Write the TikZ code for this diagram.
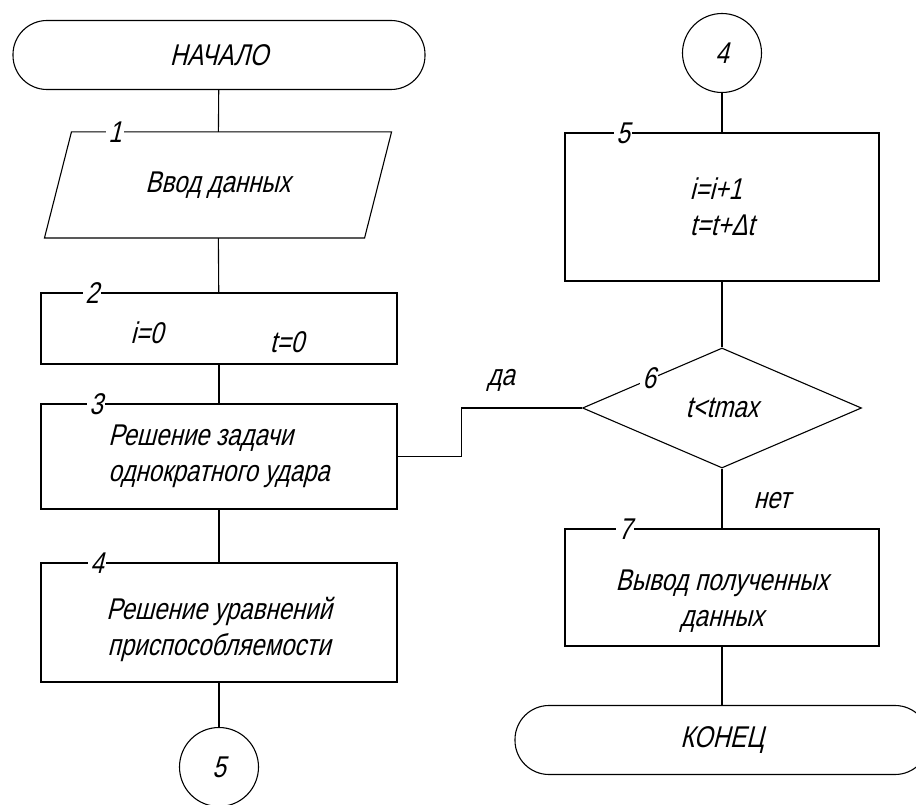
\documentclass[tikz,border=0pt]{standalone}
\usepackage{fontspec}
\setmainfont{Liberation Sans}[FakeSlant=0.25,FakeStretch=0.8]
\usetikzlibrary{shapes.geometric}

\begin{document}
\begin{tikzpicture}[x=1pt,y=-1pt,line width=1.1pt,every node/.style={font=\fontsize{30}{36}\selectfont}]
	\tikzstyle{term}=[draw,rounded corners=34pt,minimum width=412pt,minimum height=69pt]
	\tikzstyle{block}=[draw,minimum height=105pt,align=center]
	\tikzstyle{inout}=[minimum width=319pt,minimum height=105pt]
	\tikzstyle{choice}=[draw,diamond,minimum width=279pt,minimum height=120pt,inner sep=0pt]
	\tikzstyle{link}=[draw,circle,minimum size=79pt,inner sep=0pt]
	\tikzstyle{num}=[fill=white,inner sep=2pt]
	\useasboundingbox (0,0) rectangle (916,805);
	% left column
	\node[term](v0) at (219,55) {НАЧАЛО};
	\node[inout](v1) at (218,185) {Ввод данных};
	\draw ([xshift=13.5pt]v1.north west) -- ([xshift=13.5pt]v1.north east)
		-- ([xshift=-13.5pt]v1.south east) -- ([xshift=-13.5pt]v1.south west) -- cycle;
	\node[block,minimum width=356pt,minimum height=71pt](v2) at (219,328.5) {};
	\node(v2a) at (147,333) {i=0};
	\node(v2b) at (287,342) {t=0};
	\node[block,minimum width=356pt,align=left](v3) at (219,456.5) {Решение задачи\\однократного удара};
	\node[block,minimum width=356pt,minimum height=119pt](v4) at (219,622.5) {\rule{0pt}{36pt}Решение уравнений\\приспособляемости};
	\node[link](v5) at (219,767) {5};
	% right column
	\node[link](w4) at (722,53) {4};
	\node[block,minimum width=314pt,minimum height=148pt,align=left](w5) at (722,207) {i=i+1\\t=t+Δt};
	\node[choice](w6) at (722,408) {t<tmax};
	\node[block,minimum width=314pt,minimum height=117pt](w7) at (722,587.5) {\rule{0pt}{48pt}Вывод полученных\\данных};
	\node[term,minimum width=414pt](w8) at (722,740) {КОНЕЦ};
	\draw (v0) -- (v1);
	\draw (v1) -- (v2);
	\draw (v2) -- (v3);
	\draw (v3) -- (v4);
	\draw (v4) -- (v5);
	\draw (w4) -- (w5);
	\draw (w5) -- (w6);
	\draw (w6) -- (w7);
	\draw (w7) -- (w8);
	\draw (v3.east) -- ++(64,0) |- (w6.west);
	\node(yes) at (501,380) {да};
	\node(no) at (772,501) {нет};
	% block numbers
	\node[num](k1) at (115,132.5) {1};
	\node[num](k2) at (92,293) {2};
	\node[num](k3) at (96,404) {3};
	\node[num](k4) at (97,563) {4};
	\node[num](k5) at (623,133) {5};
	\node[num](k6) at (649,378) {6};
	\node[num](k7) at (625,529) {7};
\end{tikzpicture}
\end{document}
